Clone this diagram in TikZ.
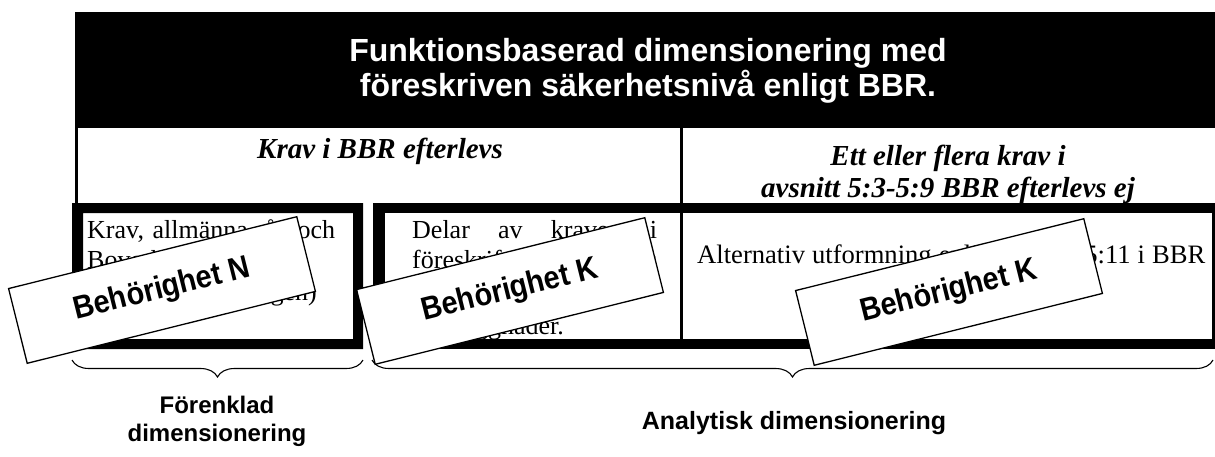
\documentclass[tikz,border=0pt]{standalone}
\usepackage{fontspec}
\setmainfont{Liberation Serif}
\newfontfamily\arialfont{Liberation Sans}
\usetikzlibrary{decorations.pathreplacing}
\newcommand\stampword[1]{\scalebox{0.9}[1]{#1}}
\tikzset{
  titletext/.style={font=\arialfont\bfseries\fontsize{32}{35}\selectfont, text=white, align=center, inner sep=0pt},
  hdrtext/.style={font=\bfseries\itshape\fontsize{29}{32}\selectfont, align=center, inner sep=0pt},
  celltext/.style={font=\fontsize{26}{28}\selectfont, inner sep=0pt, anchor=base west},
  stampbox/.style={draw, fill=white, line width=1.3pt, rotate=14, minimum width=297pt, minimum height=77pt, inner sep=0pt,
    font=\arialfont\bfseries\fontsize{32}{34}\selectfont},
  bracepath/.style={decorate, decoration={brace, mirror, amplitude=17pt}, line width=1.1pt},
  lbltext/.style={font=\arialfont\bfseries\fontsize{24}{28}\selectfont, align=center, inner sep=0pt},
}
\begin{document}
\begin{tikzpicture}[x=1pt,y=-1pt]
\useasboundingbox (0,0) rectangle (1215,456);
% header
\fill (75,12) rectangle (1215,128);
\node[titletext] (title) at (648,71) {Funktionsbaserad dimensionering med\\föreskriven säkerhetsnivå enligt BBR.};
% thin lines
\fill (75,128) rectangle (78,203);
\fill (680,128) rectangle (683,349);
\fill (1212,203) rectangle (1215,349);
% box 1
\fill[even odd rule] (72,203) rectangle (363,349) (83,213) rectangle (353,339);
% box 2 and 3
\fill (373,203) rectangle (1215,213);
\fill (373,203) rectangle (385,349);
\fill (373,339) rectangle (1215,349);
% row 2 texts
\node[hdrtext, anchor=base] (col1) at (380,158) {Krav i BBR efterlevs};
\node[hdrtext] (col2) at (948,174) {Ett eller flera krav i\\avsnitt 5:3-5:9 BBR efterlevs ej};
% cell texts
\node[celltext] (t1a) at (87,238) {\makebox[248pt][s]{Krav, allmänna råd och}};
\node[celltext] (t1b) at (87,268) {Boverkets handbok};
\node[celltext, anchor=base east] (t1c) at (317,300) {(lösningen)};
\node[celltext] (t2a) at (412,238) {\makebox[245pt][s]{Delar av kraven i}};
\node[celltext] (t2b) at (412,268) {\makebox[245pt][s]{föreskrifterna uppfylls}};
\node[celltext] (t2c) at (412,334) {för byggnader.};
\node[celltext] (t3) at (697,263) {\makebox[508pt][s]{\fontsize{26.6}{28}\selectfont Alternativ utformning enligt avsnitt 5:11 i BBR}};
% braces
\coordinate (b1l) at (72,360);
\coordinate (b1r) at (363,360);
\coordinate (b2l) at (372,360);
\coordinate (b2r) at (1213,360);
\draw[bracepath] (b1l) -- (b1r);
\draw[bracepath] (b2l) -- (b2r);
% stamps
\node[stampbox] (s1) at (162,290) {\stampword{Behörighet N}};
\node[stampbox] (s2) at (510,291) {\stampword{Behörighet K}};
\node[stampbox] (s3) at (949,292) {\stampword{Behörighet K}};
% labels
\node[lbltext] (l1) at (217,421) {Förenklad\\dimensionering};
\node[lbltext, anchor=base] (l2) at (794,429) {\fontsize{25}{28}\selectfont Analytisk dimensionering};
\end{tikzpicture}
\end{document}
